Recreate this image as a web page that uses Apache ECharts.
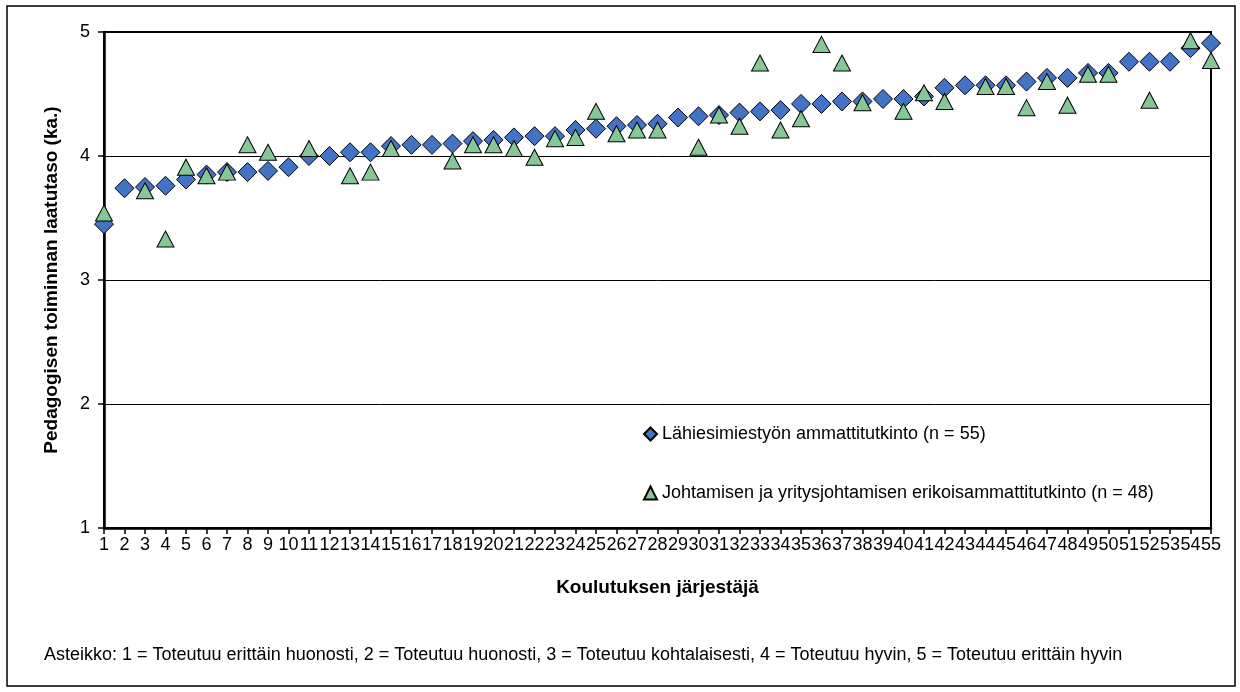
<!DOCTYPE html>
<html>
<head>
	<meta charset="utf-8">
	<title>Pedagogisen toiminnan laatutaso</title>
	<script src="https://cdn.jsdelivr.net/npm/echarts@6/dist/echarts.min.js"></script>
	<style>
		html, body { margin: 0; padding: 0; background: #fff; }
	</style>
</head>

<body>
	<div style="width:1240px;height:692px;" id="chart1"></div>

	<script>
	// järjestäjät 1..55
	var categories = [];
	for (var i = 1; i <= 55; i++) categories.push(String(i));

	var yTicks = [1, 2, 3, 4, 5];

	// Lähiesimiestyön ammattitutkinto
	var lahiesimies = [3.45, 3.74, 3.75, 3.76, 3.81, 3.85, 3.87, 3.87, 3.88, 3.91,
		4.00, 4.00, 4.03, 4.03, 4.08, 4.09, 4.09, 4.10, 4.12, 4.13,
		4.15, 4.16, 4.16, 4.21, 4.22, 4.24, 4.25, 4.26, 4.31, 4.32,
		4.33, 4.35, 4.36, 4.37, 4.42, 4.42, 4.44, 4.44, 4.46, 4.46,
		4.48, 4.55, 4.57, 4.57, 4.57, 4.60, 4.63, 4.63, 4.67, 4.67,
		4.76, 4.76, 4.76, 4.87, 4.91];

	// Johtamisen ja yritysjohtamisen erikoisammattitutkinto (null = ei arvoa)
	var johtaminen = [3.54, null, 3.72, 3.33, 3.91, 3.84, 3.87, 4.09, 4.03, null,
		4.06, null, 3.84, 3.87, 4.06, null, null, 3.96, 4.09, 4.09,
		4.06, 3.99, 4.14, 4.15, 4.36, 4.18, 4.21, 4.21, null, 4.07,
		4.33, 4.24, 4.75, 4.21, 4.30, 4.90, 4.75, 4.43, null, 4.36,
		4.51, 4.44, null, 4.56, 4.56, 4.39, 4.60, 4.41, 4.66, 4.66,
		null, 4.45, null, 4.93, 4.77];

	var fontFamily = '"Liberation Sans", Arial, sans-serif';

	function show() {
		var myChart = echarts.init(document.getElementById('chart1'));

		var option = {
			animation: false,
			textStyle: { fontFamily: fontFamily, color: '#000' },
			grid: {
				left: 104, right: 29, top: 32, bottom: 164,
				show: true, borderColor: '#000', borderWidth: 2, backgroundColor: 'transparent'
			},
			legend: {
				orient: 'vertical',
				left: 638, top: 420,
				itemGap: 41,
				itemWidth: 13, itemHeight: 13,
				itemStyle: { opacity: 1 },
				textStyle: { fontSize: 18, color: '#000', fontFamily: fontFamily },
				data: ['Lähiesimiestyön ammattitutkinto (n = 55)',
					'Johtamisen ja yritysjohtamisen erikoisammattitutkinto (n = 48)']
			},
			xAxis: {
				type: 'category',
				data: categories,
				boundaryGap: false,
				name: 'Koulutuksen järjestäjä',
				nameLocation: 'middle',
				nameGap: 50,
				nameTextStyle: { fontSize: 19, fontWeight: 'bold', color: '#000' },
				axisLine: { lineStyle: { color: '#000', width: 2.5 } },
				axisTick: { show: true, interval: 0, length: 6, lineStyle: { color: '#000', width: 1.5 } },
				axisLabel: { interval: 0, fontSize: 18, color: '#000', margin: 8 },
				splitLine: { show: false }
			},
			yAxis: {
				type: 'value',
				min: yTicks[0], max: yTicks[yTicks.length - 1], interval: 1,
				name: 'Pedagogisen toiminnan laatutaso (ka.)',
				nameLocation: 'middle',
				nameGap: 43,
				nameTextStyle: { fontSize: 19, fontWeight: 'bold', color: '#000' },
				axisLine: { show: true, lineStyle: { color: '#000', width: 2.5 } },
				axisTick: { show: true, length: 6, lineStyle: { color: '#000', width: 1.5 } },
				axisLabel: { fontSize: 18, color: '#000', margin: 14 },
				splitLine: { show: true, lineStyle: { color: '#000', width: 1 } }
			},
			graphic: [
				{
					type: 'rect', silent: true, z: -1,
					shape: { x: 7, y: 6, width: 1228, height: 680 },
					style: { fill: 'none', stroke: '#000', lineWidth: 1.5 }
				},
				{
					type: 'text', left: 44, top: 646,
					style: {
						text: 'Asteikko: 1 = Toteutuu erittäin huonosti, 2 = Toteutuu huonosti, 3 = Toteutuu kohtalaisesti, 4 = Toteutuu hyvin, 5 = Toteutuu erittäin hyvin',
						font: '18px ' + fontFamily, fill: '#000'
					}
				}
			],
			series: [
				{
					name: 'Lähiesimiestyön ammattitutkinto (n = 55)',
					type: 'scatter',
					symbol: 'diamond',
					symbolSize: [19, 19],
					itemStyle: { color: '#4472C4', borderColor: '#000', borderWidth: 1, opacity: 1 },
					data: lahiesimies
				},
				{
					name: 'Johtamisen ja yritysjohtamisen erikoisammattitutkinto (n = 48)',
					type: 'scatter',
					symbol: 'triangle',
					symbolSize: [17, 16],
					itemStyle: { color: '#86C798', borderColor: '#000', borderWidth: 1, opacity: 1 },
					data: johtaminen.map(function (v) { return v === null ? '-' : v; })
				}
			]
		};

		myChart.setOption(option);
	}

	show();
	</script>
</body>

</html>
